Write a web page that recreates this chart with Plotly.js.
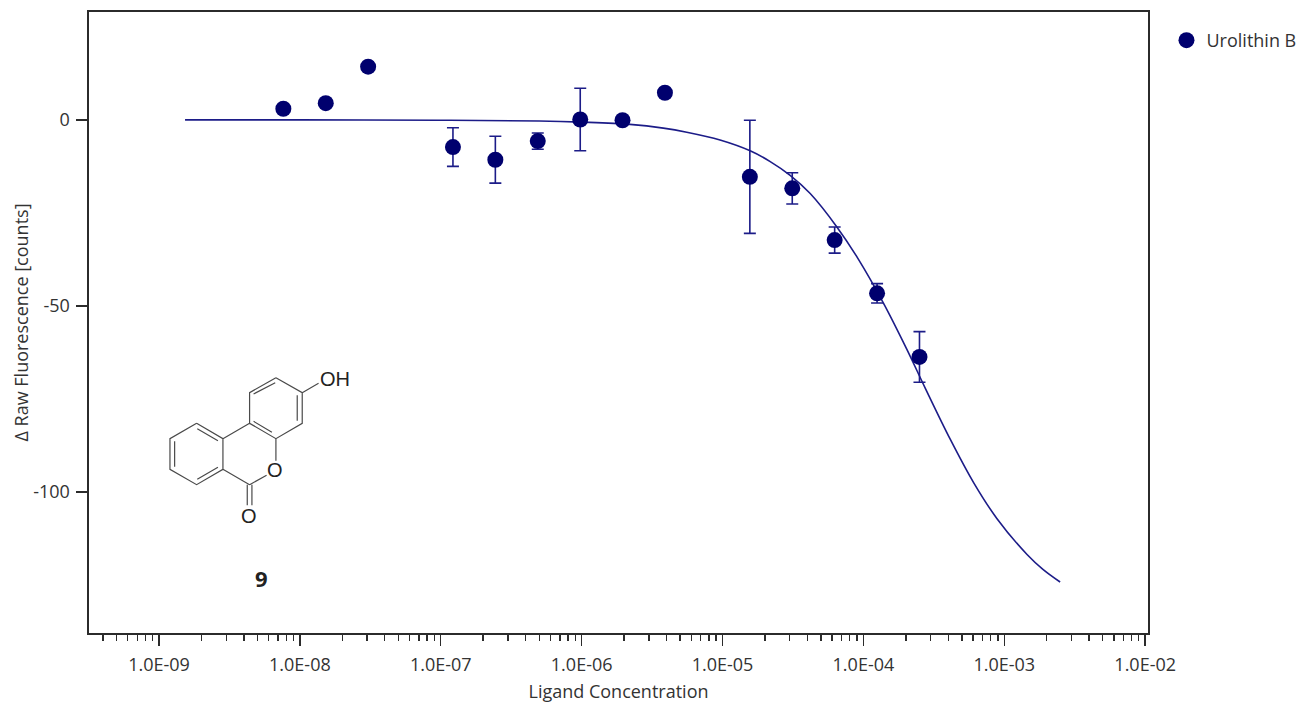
<!DOCTYPE html>
<html>
<head>
<meta charset="utf-8">
<script src="https://cdn.plot.ly/plotly-3.0.1.min.js"></script>
<style>html,body{margin:0;padding:0;background:#fff}#c{width:1301px;height:704px}</style>
</head>
<body>
<div id="c"></div>
<script>
// Measured points
const concentration = [7.63e-9,1.526e-8,3.05e-8,1.22e-7,2.44e-7,4.88e-7,9.77e-7,1.95e-6,3.9e-6,1.5625e-5,3.125e-5,6.25e-5,1.25e-4,2.5e-4];
const response = [3.0,4.5,14.3,-7.3,-10.7,-5.7,0.1,-0.1,7.3,-15.3,-18.4,-32.3,-46.6,-63.7];
const errorBars = [0,0,0,5.2,6.3,2.2,8.4,0,0,15.2,4.2,3.5,2.6,6.8];
// Fitted curve
const fitConc = [1.53e-9,1e-8,1e-7,5e-7,1e-6,2.2e-6,3.8e-6,5.57e-6,9.6e-6,1.57e-5,2.18e-5,3.02e-5,4.19e-5,6.46e-5,9.2e-5,1.39e-4,2.03e-4,2.74e-4,4.13e-4,6.04e-4,8.85e-4,1.45e-3,1.88e-3,2.49e-3];
const fitResp = [0,0,-0.1,-0.3,-0.6,-1.2,-2.2,-3.3,-5.4,-8.3,-11.2,-14.9,-19.8,-28.7,-37.4,-49.3,-61.6,-72.0,-85.8,-97.4,-107.1,-116.8,-120.8,-124.2];
// Axis labels
const xTickVals = [1e-9,1e-8,1e-7,1e-6,1e-5,1e-4,1e-3,1e-2];
const xTickText = ['1.0E-09','1.0E-08','1.0E-07','1.0E-06','1.0E-05','1.0E-04','1.0E-03','1.0E-02'];
const yTickVals = [0,-50,-100];
const seriesName = 'Urolithin B';

const FONT = '"Open Sans", "Noto Sans", sans-serif';
const TXT = '#333333', AX = '#2b2b2b', NAVY = '#00006e', CURVE = '#1c1c88';
const FS = 18;
const W = 1301, H = 704, L = 89, R = 1148.5, T = 12, B = 633;
const px = (x) => (x - L) / (R - L), py = (y) => (B - y) / (B - T);

// Structure sketch of compound 9, in reference-crop coordinates
const zx = (v) => 140 + v / 3, zy = (v) => 350 + v / 3;
const bonds = [
  [[408,83],[487,128],[487,220],[408,266],[329,220],[329,128],[408,83]],
  [[170,220],[249,266],[249,358],[170,404],[90,358],[90,266],[170,220]],
  [[329,220],[249,266]],[[249,358],[329,404]],[[329,404],[380,376]],[[408,266],[408,332]],
  [[322,404],[322,466]],[[336,404],[336,466]],[[487,128],[536,100]],
  [[341,132],[406,98]],[[472,136],[472,212]],[[341,214],[396,247]],
  [[172,236],[234,272]],[[104,274],[104,350]],[[172,388],[234,352]]
];
const molPath = bonds.map(b => b.map((p,i) => (i ? 'L' : 'M') + px(zx(p[0])).toFixed(5) + ' ' + py(zy(p[1])).toFixed(5)).join(' ')).join(' ');
const atom = (text, zxv, zyv, size, weight) => ({
  xref:'paper', yref:'paper', x:px(zx(zxv)), y:py(zy(zyv)), xanchor:'center', yanchor:'middle', showarrow:false,
  text: weight ? '<b>'+text+'</b>' : text,
  font:{family: weight ? FONT : '"Liberation Sans", Arial, sans-serif', size:size, color:'#222'}
});

const data = [
  {x:fitConc, y:fitResp, mode:'lines', line:{color:CURVE, width:1.6, shape:'spline', smoothing:1}, showlegend:false, hoverinfo:'skip'},
  {x:concentration, y:response, name:seriesName, mode:'markers', type:'scatter',
   marker:{color:NAVY, size:16, line:{width:0}},
   error_y:{type:'data', array:errorBars, visible:true, color:CURVE, thickness:1.6, width:6}}
];
const axisLine = {showline:true, mirror:true, linecolor:AX, linewidth:1.6, zeroline:false, showgrid:false,
  ticks:'outside', tickcolor:AX, tickwidth:1.4, ticklen:11, tickfont:{family:FONT, size:FS, color:TXT}};
const layout = {
  width:W, height:H, paper_bgcolor:'#fff', plot_bgcolor:'#fff',
  margin:{l:L, r:W-R, t:T, b:H-B, pad:0, autoexpand:false},
  font:{family:FONT, color:TXT},
  xaxis:Object.assign({}, axisLine, {type:'log', range:[-9.497,-1.98], tickmode:'array', tickvals:xTickVals, ticktext:xTickText,
    ticklabelstandoff:4, automargin:false,
    minor:{ticks:'outside', ticklen:6, tickcolor:AX, tickwidth:1.4, dtick:'D1', showgrid:false},
    title:{text:'Ligand Concentration', font:{family:FONT, size:FS, color:TXT}, standoff:10}}),
  yaxis:Object.assign({}, axisLine, {range:[-137.9,29.0], tickmode:'array', tickvals:yTickVals, ticktext:yTickVals.map(String),
    ticklabelstandoff:3, automargin:false,
    title:{text:'Δ Raw Fluorescence [counts]', font:{family:FONT, size:FS, color:TXT}, standoff:0}}),
  showlegend:true,
  legend:{x:(1167-L)/(R-L), y:py(22), xanchor:'left', yanchor:'top', bgcolor:'rgba(0,0,0,0)', font:{family:FONT, size:FS, color:TXT}, itemwidth:30},
  shapes:[{type:'path', xref:'paper', yref:'paper', path:molPath, line:{color:'#4a4a4a', width:1.2}}],
  annotations:[atom('O',405,360,20),atom('O',328,497,20),atom('OH',585,88,20),atom('9',365,685,22,true)]
};
Plotly.newPlot('c', data, layout, {displayModeBar:false, staticPlot:true});
</script>
</body>
</html>
